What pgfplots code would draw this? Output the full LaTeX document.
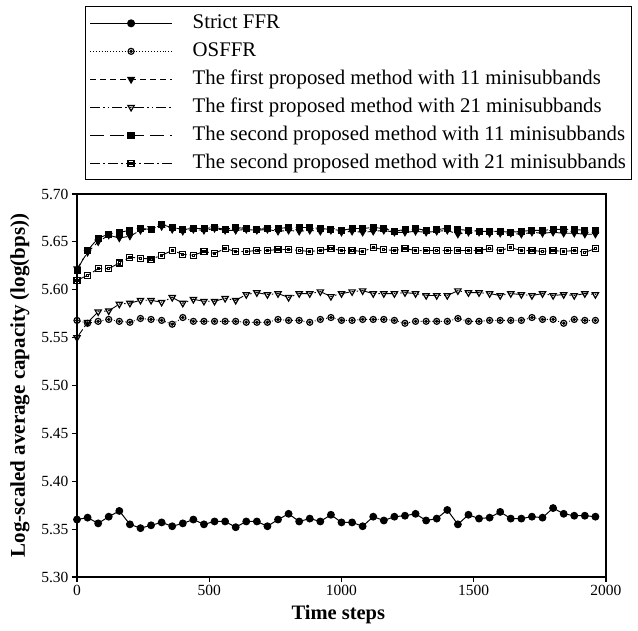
\documentclass[border=0pt]{standalone}
\usepackage{fontspec}
\setmainfont{Liberation Serif}
\usepackage{pgfplots}
\pgfplotsset{compat=1.18}
\usepackage{pgfplotstable}

\pgfdeclareplotmark{odot}{%
  \pgfpathcircle{\pgfpointorigin}{\pgfplotmarksize}\pgfusepathqstroke
  \pgfpathcircle{\pgfpointorigin}{0.35\pgfplotmarksize}\pgfusepathqstroke}
\pgfdeclareplotmark{sqdot}{%
  \pgfpathrectanglecorners{\pgfqpoint{-\pgfplotmarksize}{-\pgfplotmarksize}}{\pgfqpoint{\pgfplotmarksize}{\pgfplotmarksize}}\pgfusepathqstroke
  \pgfpathrectanglecorners{\pgfqpoint{-0.35\pgfplotmarksize}{-0.35\pgfplotmarksize}}{\pgfqpoint{0.35\pgfplotmarksize}{0.35\pgfplotmarksize}}\pgfusepathqstroke}
\pgfdeclareplotmark{tridot}{%
  \pgfpathmoveto{\pgfqpoint{0pt}{-1.1\pgfplotmarksize}}
  \pgfpathlineto{\pgfqpoint{0.95\pgfplotmarksize}{0.55\pgfplotmarksize}}
  \pgfpathlineto{\pgfqpoint{-0.95\pgfplotmarksize}{0.55\pgfplotmarksize}}
  \pgfpathclose\pgfusepathqstroke
  \pgfpathcircle{\pgfqpoint{0pt}{0.05\pgfplotmarksize}}{0.22\pgfplotmarksize}\pgfusepathqfill}
\pgfdeclareplotmark{trifill}{%
  \pgfpathmoveto{\pgfqpoint{0pt}{-1.1\pgfplotmarksize}}
  \pgfpathlineto{\pgfqpoint{0.95\pgfplotmarksize}{0.55\pgfplotmarksize}}
  \pgfpathlineto{\pgfqpoint{-0.95\pgfplotmarksize}{0.55\pgfplotmarksize}}
  \pgfpathclose\pgfusepathqfillstroke}

\pgfplotsset{legend image code/.code={%
  \draw[mark repeat=2,mark phase=2,#1,line width=1.2pt] plot coordinates {(0pt,0pt) (41pt,0pt) (82pt,0pt)};}}

\pgfplotstableread{
t sffr osffr f11 f21 s11 s21
0 5.360 5.568 5.622 5.550 5.620 5.610
40 5.362 5.565 5.639 5.566 5.641 5.615
80 5.356 5.567 5.650 5.577 5.654 5.622
120 5.363 5.569 5.657 5.578 5.658 5.622
160 5.369 5.567 5.654 5.585 5.660 5.628
200 5.355 5.566 5.656 5.586 5.662 5.634
240 5.351 5.570 5.662 5.589 5.664 5.633
280 5.354 5.569 5.664 5.589 5.663 5.632
320 5.357 5.568 5.666 5.587 5.668 5.636
360 5.353 5.564 5.663 5.592 5.665 5.641
400 5.356 5.571 5.661 5.586 5.663 5.637
440 5.360 5.567 5.663 5.590 5.664 5.636
480 5.355 5.567 5.662 5.588 5.664 5.640
520 5.358 5.567 5.664 5.588 5.665 5.638
560 5.358 5.567 5.662 5.591 5.663 5.643
600 5.352 5.567 5.662 5.589 5.665 5.640
640 5.358 5.566 5.663 5.595 5.664 5.640
680 5.358 5.566 5.662 5.597 5.663 5.641
720 5.353 5.566 5.663 5.595 5.664 5.641
760 5.360 5.569 5.661 5.596 5.664 5.642
800 5.366 5.568 5.662 5.592 5.665 5.642
840 5.358 5.568 5.661 5.596 5.665 5.641
880 5.361 5.566 5.662 5.596 5.665 5.640
920 5.358 5.569 5.661 5.598 5.664 5.641
960 5.365 5.571 5.662 5.593 5.663 5.643
1000 5.357 5.568 5.660 5.596 5.662 5.641
1040 5.357 5.568 5.661 5.598 5.664 5.641
1080 5.353 5.569 5.660 5.599 5.664 5.640
1120 5.363 5.569 5.661 5.596 5.665 5.644
1160 5.359 5.569 5.662 5.596 5.664 5.642
1200 5.363 5.568 5.660 5.596 5.661 5.641
1240 5.364 5.565 5.660 5.597 5.663 5.643
1280 5.366 5.567 5.661 5.596 5.664 5.641
1320 5.359 5.567 5.660 5.594 5.662 5.641
1360 5.361 5.567 5.661 5.594 5.663 5.641
1400 5.370 5.567 5.662 5.594 5.664 5.641
1440 5.355 5.570 5.658 5.599 5.663 5.641
1480 5.365 5.567 5.660 5.597 5.662 5.641
1520 5.361 5.567 5.660 5.597 5.661 5.641
1560 5.362 5.568 5.659 5.596 5.661 5.643
1600 5.368 5.568 5.659 5.594 5.661 5.641
1640 5.361 5.568 5.659 5.596 5.660 5.644
1680 5.361 5.568 5.658 5.595 5.661 5.641
1720 5.363 5.571 5.660 5.594 5.662 5.641
1760 5.362 5.569 5.659 5.596 5.662 5.640
1800 5.372 5.569 5.660 5.594 5.663 5.641
1840 5.366 5.565 5.659 5.595 5.663 5.640
1880 5.364 5.569 5.659 5.594 5.663 5.641
1920 5.364 5.568 5.658 5.596 5.662 5.639
1960 5.363 5.568 5.658 5.595 5.662 5.643
}\datatable

\begin{document}
\begin{tikzpicture}
\useasboundingbox (-77pt,-53pt) rectangle (561pt,577pt);
\begin{axis}[
  at={(0pt,0pt)}, anchor=south west,
  scale only axis, width=529pt, height=383pt,
  xmin=0, xmax=2000, ymin=5.30, ymax=5.70,
  xtick={0,500,1000,1500,2000},
  ytick={5.30,5.35,5.40,5.45,5.50,5.55,5.60,5.65,5.70},
  tick align=outside, xtick pos=left, ytick pos=left,
  major tick length=5pt,
  axis line style={line width=1.1pt},
  every tick/.style={line width=1.1pt, black},
  tick label style={font=\fontsize{15.5}{18}\selectfont},
  yticklabel style={/pgf/number format/.cd, fixed, fixed zerofill, precision=2, assume math mode=true},
  xticklabel style={/pgf/number format/.cd, assume math mode=true, 1000 sep={}},
  scaled y ticks=false,
  xlabel={Time steps},
  ylabel={Log-scaled average capacity (log(bps))},
  xlabel style={font=\bfseries\fontsize{20.5}{24}\selectfont, at={(axis description cs:0.494,-0.099)}, anchor=center},
  ylabel style={font=\bfseries\fontsize{21}{24}\selectfont, at={(axis description cs:-0.108,0.5)}, anchor=center},
  legend cell align=left,
  legend style={at={(axis description cs:0.0151,1.49)}, anchor=north west,
    font=\fontsize{20.8}{24}\selectfont, draw=black, line width=1pt,
    inner xsep=4pt, inner ysep=5pt, row sep=5pt,
    nodes={inner sep=2pt, text height=14.5pt, text depth=4.5pt},
    /tikz/every odd column/.append style={column sep=18pt}},
  mark size=3pt,
]
\addplot[black, line width=1pt, mark=*, mark size=3.4pt, mark options={solid}] table[x=t,y=sffr]{\datatable};
\addlegendentry{Strict FFR}
\addplot[black, line width=0.9pt, dotted, mark=odot, mark options={solid, line width=1.2pt}] table[x=t,y=osffr]{\datatable};
\addlegendentry{OSFFR}
\addplot[black, line width=0.9pt, dash pattern=on 6pt off 4pt, mark=trifill, mark size=3.3pt, mark options={solid}] table[x=t,y=f11]{\datatable};
\addlegendentry{The first proposed method with 11 minisubbands}
\addplot[black, line width=0.9pt, dash pattern=on 10pt off 3pt on 1.5pt off 3pt on 1.5pt off 3pt, mark=tridot, mark size=3.3pt, mark options={solid, line width=1.2pt}] table[x=t,y=f21]{\datatable};
\addlegendentry{The first proposed method with 21 minisubbands}
\addplot[black, line width=0.9pt, dash pattern=on 14pt off 6pt, mark=square*, mark options={solid}] table[x=t,y=s11]{\datatable};
\addlegendentry{The second proposed method with 11 minisubbands}
\addplot[black, line width=0.9pt, dash pattern=on 10pt off 3pt on 2pt off 3pt, mark=sqdot, mark options={solid, line width=1.2pt}] table[x=t,y=s21]{\datatable};
\addlegendentry{The second proposed method with 21 minisubbands}
\end{axis}
\end{tikzpicture}
\end{document}
